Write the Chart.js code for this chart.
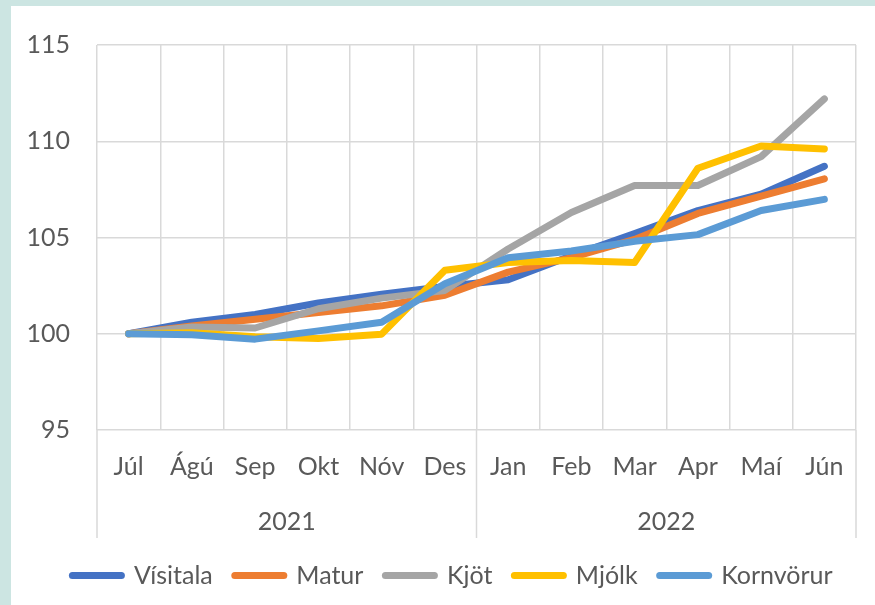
<!DOCTYPE html>
<html>
<head>
<meta charset="utf-8">
<script src="https://cdn.jsdelivr.net/npm/chart.js@4/dist/chart.umd.min.js"></script>
<style>
  html, body { margin: 0; padding: 0; }
  body { width: 875px; height: 605px; background: #cce5e2; position: relative; overflow: hidden; }
  .frame { position: absolute; left: 11px; top: 6px; width: 864px; height: 599px; background: #fff; }
  canvas { display: block; }
</style>
</head>
<body>
<div class="frame"><canvas id="chart" width="864" height="599"></canvas></div>
<script>
const months = ['Júl', 'Ágú', 'Sep', 'Okt', 'Nóv', 'Des', 'Jan', 'Feb', 'Mar', 'Apr', 'Maí', 'Jún'];
const years = ['2021', '2022'];
const yTicks = [95, 100, 105, 110, 115];

const visitala  = [100, 100.6, 101.0, 101.6, 102.05, 102.45, 102.8, 104.05, 105.2, 106.4, 107.25, 108.7];
const matur     = [100, 100.4, 100.75, 101.1, 101.45, 102.0, 103.2, 103.95, 104.9, 106.25, 107.15, 108.05];
const kjot      = [100, 100.35, 100.3, 101.3, 101.85, 102.25, 104.4, 106.3, 107.7, 107.7, 109.2, 112.2];
const mjolk     = [100, 100.05, 99.85, 99.75, 99.98, 103.3, 103.7, 103.8, 103.7, 108.6, 109.75, 109.6];
const kornvorur = [100, 99.95, 99.72, 100.15, 100.6, 102.6, 103.95, 104.3, 104.8, 105.15, 106.4, 106.98];

const FONT = 'Lato, "Open Sans", sans-serif';
const FONT_SIZE = 25;
const TEXT = '#595959';
const GRID = '#d9d9d9';

function series(label, data, color, order) {
  return {
    label, data, order,
    borderColor: color, backgroundColor: color,
    borderWidth: 7, borderCapStyle: 'round', borderJoinStyle: 'round',
    pointRadius: 0, pointHoverRadius: 0, tension: 0, pointStyle: 'line'
  };
}

// separators between the year groups, running from the plot bottom down through both label rows
const yearLines = {
  id: 'yearLines',
  afterLayout(chart) {
    // legend sits a bit right of the canvas centre in the original
    chart.legend.left += 38;
  },
  afterDraw(chart) {
    const x2 = chart.scales.x2;
    const top = chart.chartArea.bottom;
    const bottom = x2.top + 34;
    const xs = [x2.left, (x2.getPixelForValue(0) + x2.getPixelForValue(1)) / 2, x2.right];
    const ctx = chart.ctx;
    ctx.save();
    ctx.strokeStyle = GRID;
    ctx.lineWidth = 1.5;
    xs.forEach(x => {
      ctx.beginPath();
      ctx.moveTo(x, top);
      ctx.lineTo(x, bottom);
      ctx.stroke();
    });
    ctx.restore();
  }
};

new Chart(document.getElementById('chart'), {
  type: 'line',
  data: {
    labels: months,
    datasets: [
      series('Vísitala', visitala, '#4472c4', 5),
      series('Matur', matur, '#ed7d31', 4),
      series('Kjöt', kjot, '#a5a5a5', 3),
      series('Mjólk', mjolk, '#ffc000', 2),
      series('Kornvörur', kornvorur, '#5b9bd5', 1)
    ]
  },
  options: {
    responsive: false,
    animation: false,
    events: [],
    layout: { padding: { top: 39, right: 19, left: 0, bottom: 7 } },
    scales: {
      y: {
        min: 95, max: 115,
        afterBuildTicks: axis => { axis.ticks = yTicks.map(v => ({ value: v })); },
        afterFit: axis => { axis.width = 86; axis.paddingTop = 0; },
        border: { display: false },
        grid: { color: GRID, lineWidth: 1.5, drawTicks: false },
        ticks: { color: TEXT, font: { family: FONT, size: FONT_SIZE }, padding: 27 }
      },
      x: {
        offset: true,
        afterFit: axis => { axis.height = 74; },
        border: { display: false },
        grid: { color: GRID, lineWidth: 1.5, offset: true, drawTicks: false },
        ticks: { color: TEXT, font: { family: FONT, size: FONT_SIZE }, padding: 22, maxRotation: 0, autoSkip: false }
      },
      x2: {
        type: 'category',
        labels: years,
        position: 'bottom',
        offset: true,
        afterFit: axis => { axis.height = 37; },
        border: { display: false },
        grid: { display: false, drawTicks: false },
        ticks: { color: TEXT, font: { family: FONT, size: FONT_SIZE }, padding: 3, maxRotation: 0 }
      }
    },
    plugins: {
      tooltip: { enabled: false },
      legend: {
        position: 'bottom',
        labels: {
          color: TEXT,
          font: { family: FONT, size: FONT_SIZE },
          usePointStyle: true,
          pointStyleWidth: 49,
          padding: 22,
          sort: (a, b) => a.datasetIndex - b.datasetIndex,
          generateLabels: chart => Chart.defaults.plugins.legend.labels.generateLabels(chart)
            .map(item => ({ ...item, lineCap: 'round', lineWidth: 7 }))
        }
      }
    }
  },
  plugins: [yearLines]
});
</script>
</body>
</html>
